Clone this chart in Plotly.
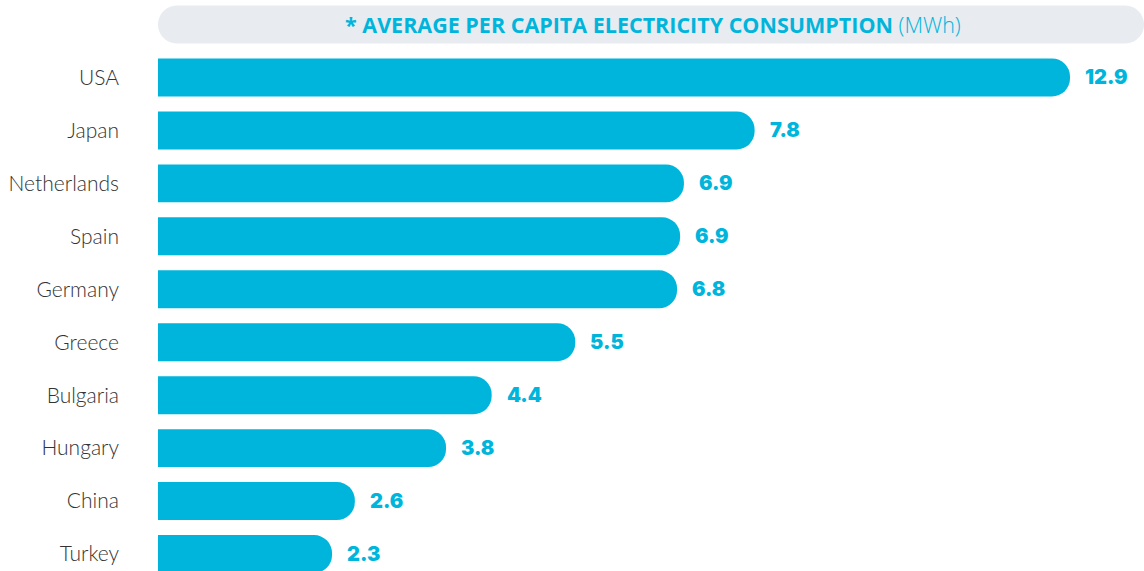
import plotly.graph_objects as go
import numpy as np

countries = ["USA", "Japan", "Netherlands", "Spain", "Germany", "Greece",
             "Bulgaria", "Hungary", "China", "Turkey"]
values = [12.9, 7.8, 6.9, 6.9, 6.8, 5.5, 4.4, 3.8, 2.6, 2.3]
# drawn bar extents (USA bar is visually truncated)
bar_extent = [12.0, 7.85, 6.92, 6.87, 6.83, 5.49, 4.39, 3.79, 2.59, 2.29]
value_labels = [f"{v:.1f}" for v in values]

BAR = "#00B5DC"
W, H = 1144, 571
L, T = 158, 50.5

fig = go.Figure()
fig.add_trace(go.Bar(
    y=countries, x=bar_extent, orientation="h",
    marker=dict(color=BAR, cornerradius="50%", line=dict(width=0)),
    width=0.717, hoverinfo="skip",
))

for c, ext, lab in zip(countries, bar_extent, value_labels):
    fig.add_annotation(x=ext, y=c, xref="x", yref="y", text=lab,
                       showarrow=False, xanchor="left", yanchor="middle",
                       xshift=13,
                       font=dict(family="Inter", size=20, color=BAR, weight=900))

# title pill (rounded rectangle) in paper coordinates
pw = W - L
ph = H - T
def px2paper_x(px):
    return (px - L) / pw
def px2paper_y(py):
    return 1 + (T - py) / ph
x0, x1, y0, y1 = 158, 1144, 5, 43
r = (y1 - y0) / 2
pts = []
cy = (y0 + y1) / 2
for a in np.linspace(np.pi / 2, 3 * np.pi / 2, 24):
    pts.append((x0 + r + r * np.cos(a), cy - r * np.sin(a)))
for a in np.linspace(-np.pi / 2, np.pi / 2, 24):
    pts.append((x1 - r + r * np.cos(a), cy - r * np.sin(a)))
path = "M " + " L ".join(f"{px2paper_x(x):.5f},{px2paper_y(y):.5f}" for x, y in pts) + " Z"
fig.add_shape(type="path", path=path, xref="paper", yref="paper",
              fillcolor="#E8EBF0", line=dict(width=0), layer="below")

fig.add_annotation(x=px2paper_x(653), y=px2paper_y(cy), xref="paper", yref="paper",
                   text="<b>* AVERAGE PER CAPITA ELECTRICITY CONSUMPTION</b> "
                        "<span style='font-weight:300'>(MWh)</span>",
                   showarrow=False, xanchor="center", yanchor="middle",
                   font=dict(family="Open Sans", size=21.5, color=BAR))

fig.update_layout(
    width=W, height=H,
    margin=dict(l=L, r=0, t=T, b=0),
    plot_bgcolor="white", paper_bgcolor="white",
    showlegend=False,
    xaxis=dict(range=[0, (W - L) / 76.0], visible=False, fixedrange=True),
    yaxis=dict(range=[(H - 77) / 53.0, -0.5], type="category",
               showgrid=False, zeroline=False, showline=False,
               ticks="", ticklabelstandoff=38,
               tickfont=dict(family="Lato", size=21, color="#333333", weight=300)),
)

fig.write_html("out.html",
               config={"displayModeBar": False},
               post_script="document.body.style.margin='0';document.body.style.overflow='hidden';")
